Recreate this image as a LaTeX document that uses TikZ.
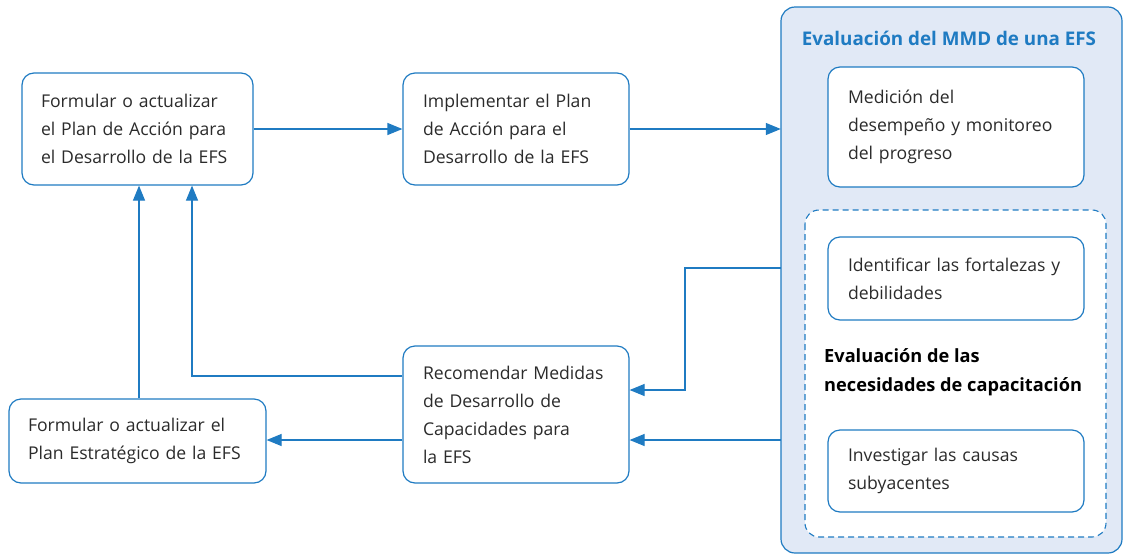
\documentclass[tikz,border=0pt]{standalone}
\usepackage{fontspec}
\setmainfont{Open Sans}
\usetikzlibrary{arrows.meta,calc}
\definecolor{efsblue}{HTML}{1F7BC2}
\definecolor{efsfill}{HTML}{E1E9F6}
\definecolor{efstext}{HTML}{2B2B2B}
\tikzset{
  box/.style={draw=efsblue, line width=1.2pt, rounded corners=12pt, fill=white,
    align=left, inner xsep=0pt, inner ysep=0pt, text=efstext,
    font=\fontsize{17.6}{28}\selectfont},
  arr/.style={draw=efsblue, line width=1.2pt, -{Triangle[length=15pt,width=12pt]}},
  ln/.style={draw=efsblue, line width=1.2pt}
}
\begin{document}
\begin{tikzpicture}[x=1pt,y=-1pt]
\useasboundingbox (0,0) rectangle (1125,555);
% container
\draw[efsblue, line width=1.2pt, fill=efsfill, rounded corners=14pt] (781,7) rectangle (1122,553);
\node[font=\bfseries\fontsize{18.8}{20}\selectfont, text=efsblue] (title) at (949,38) {Evaluación del MMD de una EFS};
\node[inner sep=0pt, minimum width=341pt, minimum height=546pt] (cont) at (951.5,280) {};
% dashed area
\draw[efsblue, line width=1.1pt, dash pattern=on 6pt off 4pt, fill=white, rounded corners=14pt] (805,210) rectangle (1106,537);
% boxes
\node[box, minimum width=231pt, minimum height=112pt, text width=193pt] (b1) at (137.5,129)
  {Formular o actualizar\\el Plan de Acción para\\el Desarrollo de la EFS};
\node[box, minimum width=226pt, minimum height=112pt, text width=186pt] (b2) at (516,129)
  {Implementar el Plan\\de Acción para el\\Desarrollo de la EFS};
\node[box, minimum width=226pt, minimum height=137pt, text width=186pt] (rec) at (516,414.5)
  {Recomendar Medidas\\de Desarrollo de\\Capacidades para\\la EFS};
\node[box, minimum width=257pt, minimum height=84pt, text width=219pt] (pe) at (137.5,441)
  {Formular o actualizar el\\Plan Estratégico de la EFS};
\node[box, minimum width=256pt, minimum height=120pt, text width=216pt] (med) at (956,127)
  {Medición del\\desempeño y monitoreo\\del progreso};
\node[box, minimum width=256pt, minimum height=83pt, text width=216pt] (ide) at (956,278.5)
  {Identificar las fortalezas y\\debilidades};
\node[box, minimum width=256pt, minimum height=82pt, text width=216pt] (inv) at (956,471)
  {Investigar las causas\\subyacentes};
\node[align=left, anchor=west, inner sep=0pt, text=black, font=\bfseries\fontsize{18.2}{29}\selectfont] (nec) at (824,372)
  {Evaluación de las\\necesidades de capacitación};
% connectors
\draw[arr] (b1.east) -- (b2.west);
\draw[arr] (b2.east) -- (b2.east -| cont.west);
\coordinate (c1) at (cont.west |- 0,268);
\coordinate (c2) at (cont.west |- 0,440);
\coordinate (k1) at (685,268);
\draw[arr] (c1) -- (k1) |- (rec.east |- 0,390);
\draw[arr] (c2) -- (rec.east |- c2);
\coordinate (k2) at (192,376);
\draw[arr] (rec.west |- k2) -- (k2) -- (b1.south -| k2);
\draw[arr] (rec.west |- 0,440) -- (pe.east |- 0,440);
\draw[arr] (pe.north -| 139,0) -- (b1.south -| 139,0);
\end{tikzpicture}
\end{document}
